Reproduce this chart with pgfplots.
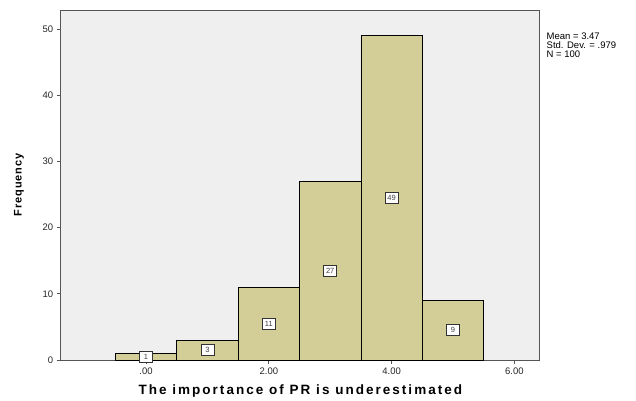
\documentclass[border=0pt]{standalone}
\usepackage{pgfplots}
\pgfplotsset{compat=1.18}
\usepackage{fontspec}
\setmainfont{Liberation Sans}
\definecolor{barfill}{HTML}{D3CE98}
\definecolor{plotbg}{HTML}{EFEFEF}
\definecolor{axisgray}{HTML}{555555}
\begin{document}
\begin{tikzpicture}
  \begin{axis}[
    name=ax,
    at={(0,0)}, anchor=south west,
    scale only axis, width=478.3pt, height=350pt,
    xmin=-1.39, xmax=6.40, ymin=0, ymax=52.87,
    axis background/.style={fill=plotbg},
    axis line style={axisgray, line width=0.9pt},
    tick align=outside, tick pos=left,
    major tick length=4pt,
    tick style={axisgray, line width=0.9pt},
    xtick={0,2,4,6}, xticklabels={.00,2.00,4.00,6.00},
    ytick={0,10,20,30,40,50},
    ticklabel style={font=\fontsize{9.5}{10}\selectfont, text=black!85},
    /pgf/number format/assume math mode=true,
    xlabel={The importance of PR is underestimated},
    xlabel style={font=\fontsize{13.5}{14}\selectfont\bfseries\addfontfeature{LetterSpace=15},
      at={(axis description cs:0.501,-0.0886)}, anchor=center},
    ylabel={Frequency},
    ylabel style={font=\fontsize{11}{12}\selectfont\bfseries\addfontfeature{LetterSpace=8},
      at={(axis description cs:-0.0872,0.5)}, anchor=center},
    clip=false,
  ]
    \addplot[ybar, bar width=1, bar shift=0, fill=barfill, draw=black, line width=0.8pt]
      coordinates {(0,1) (1,3) (2,11) (3,27) (4,49) (5,9)};
    \addplot[only marks, mark=none, point meta=explicit symbolic,
      nodes near coords,
      nodes near coords style={anchor=center, draw=black!80, fill=white, line width=0.7pt,
        inner sep=0pt, minimum width=13pt, minimum height=11pt,
        font=\fontsize{7.5}{7.5}\selectfont, text=black!75}]
      coordinates {(0,0.5)[1] (1,1.5)[3] (2,5.5)[11] (3,13.5)[27] (4,24.5)[49] (5,4.5)[9]};
  \end{axis}
  \node[anchor=north west, align=left, inner sep=0pt,
    font=\fontsize{9.5}{8.7}\selectfont] at (485.8pt,327pt)
    {Mean = 3.47\\Std. Dev. = .979\\N = 100};
  \path[use as bounding box] (-60.7pt,-40pt) rectangle (575.3pt,360pt);
\end{tikzpicture}
\end{document}
